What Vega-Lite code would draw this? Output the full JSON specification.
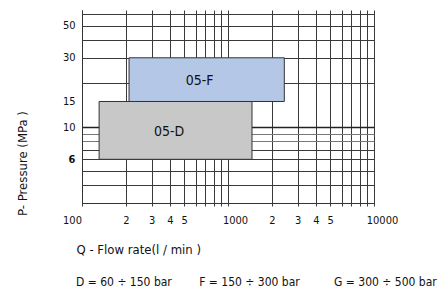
{
  "$schema": "https://vega.github.io/schema/vega-lite/v6.json",
  "width": 292,
  "height": 193,
  "autosize": "none",
  "padding": {"left": 82, "top": 10, "right": 68, "bottom": 88},
  "background": "white",
  "config": {
    "view": {"stroke": null},
    "font": "'DejaVu Sans Condensed', Roboto, sans-serif",
    "axis": {"labelFont": "'DejaVu Sans Condensed', Roboto, sans-serif", "titleFont": "'DejaVu Sans Condensed', Roboto, sans-serif", "titleFontWeight": "normal"}
  },
  "title": {
    "text": "D = 60 ÷ 150 bar\u00a0\u00a0\u00a0\u00a0\u00a0\u00a0\u00a0\u00a0F = 150 ÷ 300 bar\u00a0\u00a0\u00a0\u00a0\u00a0\u00a0\u00a0\u00a0\u00a0\u00a0G = 300 ÷ 500 bar",
    "orient": "bottom",
    "anchor": "start",
    "frame": "group",
    "dx": -6,
    "offset": 21,
    "fontSize": 12,
    "fontWeight": "normal",
    "color": "#111",
    "font": "'DejaVu Sans Condensed', Roboto, sans-serif"
  },
  "data": {
    "values": [
      {"name": "05-D", "q1": 131, "q2": 1460, "p1": 6, "p2": 15, "lq": 395, "lp": 9.3},
      {"name": "05-F", "q1": 210, "q2": 2430, "p1": 15, "p2": 30, "lq": 640, "lp": 20.6}
    ]
  },
  "encoding": {
    "x": {
      "field": "q1",
      "type": "quantitative",
      "scale": {"type": "log", "domain": [100, 10000], "nice": false},
      "axis": {
        "title": "Q  - Flow rate(l / min )",
        "titleFontSize": 13,
        "titleColor": "#111",
        "titleAlign": "left",
        "titleAnchor": "start",
        "titleX": -6,
        "titleY": 46,
        "titleBaseline": "middle",
        "values": [100, 200, 300, 400, 500, 600, 700, 800, 900, 1000, 2000, 3000, 4000, 5000, 6000, 7000, 8000, 9000, 10000],
        "labelExpr": "indexof([100,1000,10000], datum.value) >= 0 ? '' + datum.value : (indexof([2,3,4,5], datum.value/100) >= 0 ? '' + datum.value/100 : (indexof([2,3,4,5], datum.value/1000) >= 0 ? '' + datum.value/1000 : ''))",
        "labelOverlap": false,
        "labelFlush": false,
        "labelFontSize": 11,
        "labelColor": "#111",
        "labelPadding": 8,
        "labelOffset": {"condition": [{"test": "datum.value == 100", "value": -10}, {"test": "datum.value == 1000", "value": 7}, {"test": "datum.value == 10000", "value": 8}], "value": 0},
        "grid": true,
        "gridColor": "#3a3a3a",
        "gridOpacity": 1,
        "gridWidth": 1,
        "ticks": true,
        "tickSize": 3,
        "tickColor": "#3a3a3a",
        "domainColor": "#333"
      }
    },
    "y": {
      "field": "p1",
      "type": "quantitative",
      "scale": {"type": "log", "domain": [3, 64], "nice": false},
      "axis": {
        "title": "P- Pressure (MPa )",
        "titleFontSize": 13,
        "titleColor": "#111",
        "titleAngle": -90,
        "titleAlign": "center",
        "titleBaseline": "middle",
        "titleX": -60,
        "titleY": 153,
        "values": [3, 4, 5, 6, 7, 8, 9, 10, 15, 20, 30, 40, 50, 60],
        "labelExpr": "indexof([6,10,15,30,50], datum.value) >= 0 ? '' + datum.value : ''",
        "labelOverlap": false,
        "labelFontSize": 11,
        "labelColor": "#111",
        "labelPadding": 7,
        "labelFontWeight": {"condition": {"test": "datum.value == 6", "value": "bold"}, "value": "normal"},
        "grid": true,
        "gridColor": {"condition": [{"test": "datum.value == 10", "value": "#222"}, {"test": "datum.value == 8 || datum.value == 9", "value": "#777"}], "value": "#3a3a3a"},
        "gridOpacity": {"condition": {"test": "datum.value == 15", "value": 0}, "value": 1},
        "gridWidth": {"condition": {"test": "datum.value == 10", "value": 1.5}, "value": 1},
        "ticks": false,
        "domainColor": "#333"
      }
    }
  },
  "layer": [
    {
      "mark": {"type": "rect", "stroke": "#333", "strokeWidth": 1},
      "encoding": {
        "x2": {"field": "q2"},
        "y2": {"field": "p2"},
        "fill": {
          "field": "name",
          "type": "nominal",
          "scale": {"domain": ["05-D", "05-F"], "range": ["#c8c8c8", "#b4c7e7"]},
          "legend": null
        }
      }
    },
    {
      "mark": {"type": "text", "fontSize": 14, "color": "#111", "font": "'DejaVu Sans Condensed', Roboto, sans-serif"},
      "encoding": {
        "x": {"field": "lq", "type": "quantitative"},
        "y": {"field": "lp", "type": "quantitative"},
        "text": {"field": "name"}
      }
    }
  ]
}
